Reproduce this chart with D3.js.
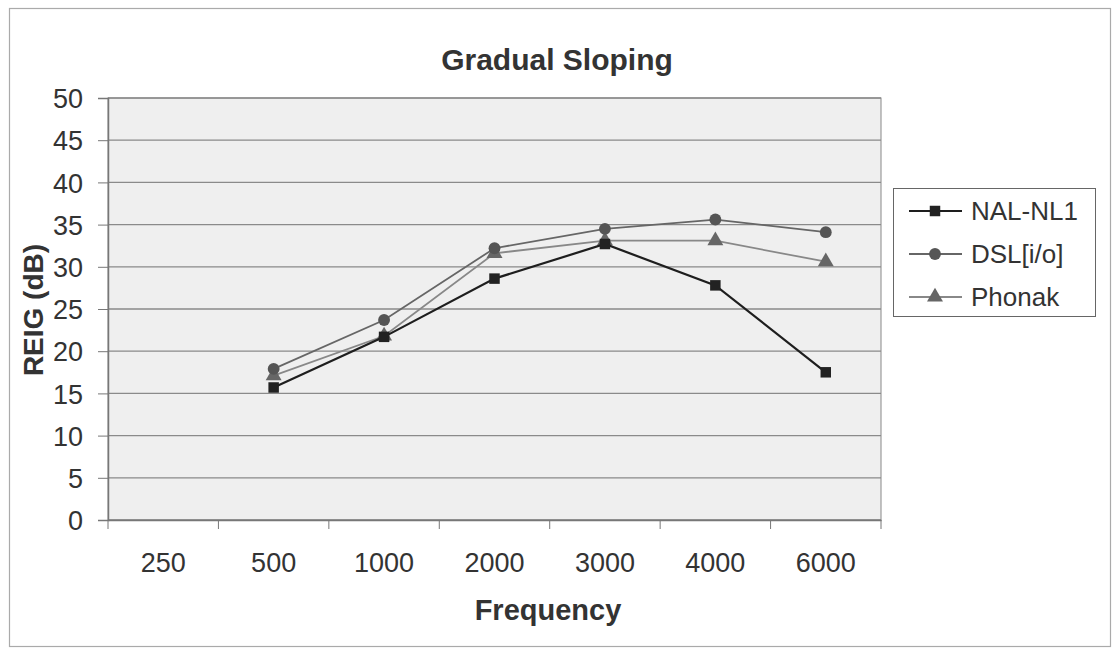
<!DOCTYPE html>
<html><head><meta charset="utf-8">
<script src="https://cdn.jsdelivr.net/npm/d3@7"></script>
<style>body{margin:0;background:#fff;} text{font-family:"Liberation Sans",Arial,sans-serif;}</style>
</head><body><svg id="c" width="1113" height="650"></svg>
<script>
const categories = ["250","500","1000","2000","3000","4000","6000"];
const nalValues = [null,15.7,21.7,28.6,32.7,27.8,17.5];
const dslValues = [null,17.9,23.7,32.2,34.5,35.6,34.1];
const phonakValues = [null,17.1,21.8,31.6,33.1,33.1,30.6];
const yTicks = [0,5,10,15,20,25,30,35,40,45,50];
const seriesNames = ["NAL-NL1","DSL[i/o]","Phonak"];

const svg = d3.select("#c");
svg.append("rect").attr("x",9.5).attr("y",8.5).attr("width",1101).attr("height",638)
  .attr("fill","#fff").attr("stroke","#aaa").attr("stroke-width",1.2);

const L=108,R=881,T=98,B=520;
const x = d3.scaleBand().domain(categories).range([L,R]);
const y = d3.scaleLinear().domain([0,50]).range([B,T]);

svg.append("rect").attr("x",L).attr("y",T).attr("width",R-L).attr("height",B-T)
  .attr("fill","#efefef").attr("stroke","#888").attr("stroke-width",1);

svg.append("g").selectAll("line").data(yTicks).join("line")
  .attr("x1",L).attr("x2",R).attr("y1",d=>y(d)).attr("y2",d=>y(d))
  .attr("stroke","#8a8a8a").attr("stroke-width",1.3);

const yAxis = d3.axisLeft(y).tickValues(yTicks).tickSize(10);
const ya = svg.append("g").attr("transform",`translate(${L},0)`).call(yAxis);
ya.select(".domain").attr("stroke","#777").attr("stroke-width",1.5);
ya.selectAll(".tick line").attr("stroke","#777");
ya.selectAll("text").attr("x",-25).attr("dy","0.36em").attr("font-size",27)
  .attr("fill","#333").attr("font-family","Liberation Sans, Arial");

const xAxis = d3.axisBottom(x).tickSize(0);
const xa = svg.append("g").attr("transform",`translate(0,${B})`).call(xAxis);
xa.select(".domain").attr("stroke","#777").attr("stroke-width",1.5);
xa.selectAll("text").attr("y",52).attr("dy",0).attr("font-size",27)
  .attr("fill","#333").attr("font-family","Liberation Sans, Arial");
const bounds = categories.map(c=>x(c)).concat([R]);
xa.selectAll("line.bt").data(bounds).join("line").attr("class","bt")
  .attr("x1",d=>d).attr("x2",d=>d).attr("y1",0).attr("y2",9).attr("stroke","#777");

svg.append("text").attr("x",557).attr("y",70).attr("text-anchor","middle")
  .attr("font-size",30).attr("font-weight","bold").attr("fill","#333").text("Gradual Sloping");
svg.append("text").attr("x",548).attr("y",620).attr("text-anchor","middle")
  .attr("font-size",29).attr("font-weight","bold").attr("fill","#333").text("Frequency");
svg.append("text").attr("transform","translate(43,310) rotate(-90)").attr("text-anchor","middle")
  .attr("font-size",28).attr("font-weight","bold").attr("fill","#333").text("REIG (dB)");

const series = [
  {name:seriesNames[0], vals:nalValues, line:"#1e1e1e", fill:"#222", shape:d3.symbolSquare, size:110, w:2.2},
  {name:seriesNames[1], vals:dslValues, line:"#666", fill:"#555", shape:d3.symbolCircle, size:110, w:1.8},
  {name:seriesNames[2], vals:phonakValues, line:"#888", fill:"#666", shape:d3.symbolTriangle, size:110, w:1.8}
];
const cx = c => x(c)+x.bandwidth()/2;
const lineGen = d3.line().defined(d=>d.v!=null).x(d=>cx(d.c)).y(d=>y(d.v));
[...series].reverse().forEach(s=>{
  const pts = categories.map((c,i)=>({c, v:s.vals[i]}));
  svg.append("path").datum(pts).attr("d",lineGen).attr("fill","none")
    .attr("stroke",s.line).attr("stroke-width",s.w);
  svg.selectAll(null).data(pts.filter(p=>p.v!=null)).join("path")
    .attr("d",d3.symbol().type(s.shape).size(s.size))
    .attr("transform",d=>`translate(${cx(d.c)},${y(d.v)})`)
    .attr("fill",s.fill);
});

svg.append("rect").attr("x",893.5).attr("y",188.5).attr("width",202).attr("height",128)
  .attr("fill","#fff").attr("stroke","#666").attr("stroke-width",1);
series.forEach((s,i)=>{
  const ly = 211 + i*43;
  svg.append("line").attr("x1",909).attr("x2",962).attr("y1",ly).attr("y2",ly)
    .attr("stroke",s.line).attr("stroke-width",s.w);
  svg.append("path").attr("d",d3.symbol().type(s.shape).size(s.size)())
    .attr("transform",`translate(935,${ly})`).attr("fill",s.fill);
  svg.append("text").attr("x",971).attr("y",ly+9).attr("font-size",26).attr("fill","#333").text(s.name);
});
</script></body></html>
